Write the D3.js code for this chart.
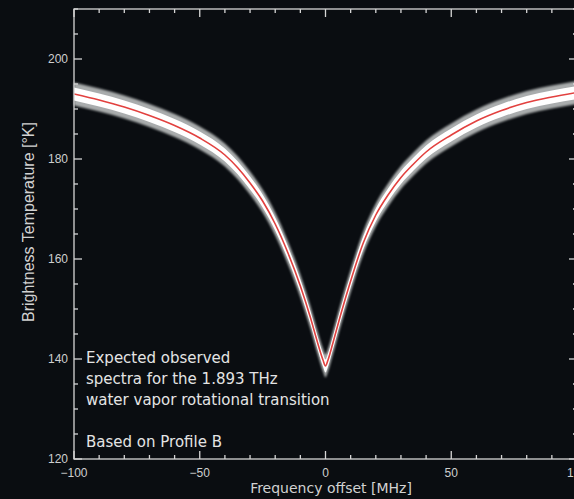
<!DOCTYPE html>
<html>
<head>
<meta charset="utf-8">
<script src="https://cdn.jsdelivr.net/npm/d3@7"></script>
<style>
	body { margin: 0; background: #0a0d11; }
	svg { display: block; }
</style>
</head>
<body>
<div id="spectrum"></div>
<script>
document.addEventListener("DOMContentLoaded", init, false);

// frequency offset [MHz] and brightness temperature [K]
var freqOffsets = [-100, -90, -80, -70, -60, -50, -40, -35, -30, -25, -20, -15, -10, -6, -3, -1, 0,
	1, 3, 6, 10, 15, 20, 25, 30, 35, 40, 50, 60, 70, 80, 90, 100];
var brightnessTemps = [193.0, 191.8, 190.4, 188.7, 186.7, 184.2, 180.8, 178.3, 175.2, 171.6, 167.0, 161.3, 154.6, 148.3, 143.0, 139.8, 138.6,
	139.8, 143.3, 148.8, 155.6, 163.2, 168.8, 172.9, 176.3, 179.0, 181.4, 184.8, 187.6, 189.7, 191.3, 192.4, 193.3];

// half width of the noisy observed spectrum around the fit [K]
var noiseCore = 1.3;
var noiseSpread = 2.3;

var xTickLabels = [-100, -50, 0, 50, 100];
var yTickLabels = [120, 140, 160, 180, 200];

var noteLines = ["Expected observed", "spectra for the 1.893 THz", "water vapor rotational transition"];
var profileNote = "Based on Profile B";

window.spectrum = {};
window.spectrum.screenWidth = 574;
window.spectrum.screenHeight = 499;

function init() {
	var width = window.spectrum.screenWidth,
		height = window.spectrum.screenHeight;
	var left = 74, right = 577, top = 9, bottom = 459;
	var axisColor = '#d6d6d6';

	var svg = d3.select('#spectrum').append('svg')
		.attr('width', width)
		.attr('height', height);

	svg.append('rect').attr('width', width).attr('height', height).attr('fill', '#0a0d11');

	var defs = svg.append('defs');
	defs.append('filter').attr('id', 'soft')
		.append('feGaussianBlur').attr('stdDeviation', 0.5);
	defs.append('filter').attr('id', 'softer')
		.append('feGaussianBlur').attr('stdDeviation', 1.0);

	var x = d3.scaleLinear().domain([-100, 100]).range([left, right]);
	var y = d3.scaleLinear().domain([120, 210]).range([bottom, top]);

	var points = freqOffsets.map(function(f, i) {
		return {'f': f, 't': brightnessTemps[i]};
	});

	/**
	 * noisy observed spectrum, drawn as a band round the fit
	 **/
	var halo = d3.area()
		.x(function(d) { return x(d.f); })
		.y0(function(d) { return y(d.t - noiseSpread); })
		.y1(function(d) { return y(d.t + noiseSpread); })
		.curve(d3.curveMonotoneX);
	var core = d3.area()
		.x(function(d) { return x(d.f); })
		.y0(function(d) { return y(d.t - noiseCore); })
		.y1(function(d) { return y(d.t + noiseCore); })
		.curve(d3.curveMonotoneX);

	svg.append('path').datum(points).attr('d', halo)
		.attr('fill', '#dfe2e1').attr('opacity', 0.75).attr('filter', 'url(#softer)');
	svg.append('path').datum(points).attr('d', core)
		.attr('fill', '#ffffff').attr('filter', 'url(#soft)');

	// fitted line
	var fit = d3.line()
		.x(function(d) { return x(d.f); })
		.y(function(d) { return y(d.t); })
		.curve(d3.curveMonotoneX);
	svg.append('path').datum(points).attr('d', fit)
		.attr('fill', 'none').attr('stroke', '#e2413f').attr('stroke-width', 1.6);

	/**
	 * frame and inward ticks
	 **/
	var frame = svg.append('g').attr('stroke', axisColor).attr('stroke-width', 1.3).attr('fill', 'none');
	frame.append('rect').attr('x', left).attr('y', top).attr('width', right - left).attr('height', bottom - top);

	var xTicks = d3.range(-100, 101, 10);
	var yTicks = d3.range(120, 211, 5);

	xTicks.forEach(function(v) {
		var len = v % 50 === 0 ? 8 : 4;
		frame.append('line').attr('x1', x(v)).attr('x2', x(v)).attr('y1', bottom).attr('y2', bottom - len);
		frame.append('line').attr('x1', x(v)).attr('x2', x(v)).attr('y1', top).attr('y2', top + len);
	});
	yTicks.forEach(function(v) {
		var len = v % 20 === 0 ? 8 : 4;
		frame.append('line').attr('x1', left).attr('x2', left + len).attr('y1', y(v)).attr('y2', y(v));
		frame.append('line').attr('x1', right).attr('x2', right - len).attr('y1', y(v)).attr('y2', y(v));
	});

	var labels = svg.append('g')
		.attr('fill', '#cfcfcf')
		.attr('font-family', 'Liberation Sans, Arial, sans-serif')
		.attr('font-size', 12);

	labels.selectAll('.xl').data(xTickLabels).enter().append('text')
		.attr('x', function(d) { return x(d); })
		.attr('y', 477)
		.attr('text-anchor', 'middle')
		.text(function(d) { return d < 0 ? '\u2212' + Math.abs(d) : d; });

	labels.selectAll('.yl').data(yTickLabels).enter().append('text')
		.attr('x', 68)
		.attr('y', function(d) { return y(d) + 4; })
		.attr('text-anchor', 'end')
		.text(function(d) { return d; });

	// axis titles
	var titleFont = 'DejaVu Sans, Verdana, sans-serif';
	svg.append('text')
		.attr('x', 331).attr('y', 493)
		.attr('text-anchor', 'middle')
		.attr('fill', '#d2d2d2').attr('font-family', titleFont).attr('font-size', 14)
		.text('Frequency offset [MHz]');

	svg.append('text')
		.attr('transform', 'translate(34,222) rotate(-90)')
		.attr('text-anchor', 'middle')
		.attr('fill', '#d2d2d2').attr('font-family', 'Liberation Sans, Arial, sans-serif').attr('font-size', 16)
		.text('Brightness Temperature [\u00b0K]');

	// annotation
	var note = svg.append('g')
		.attr('fill', '#e4e4e4').attr('font-family', titleFont).attr('font-size', 15);
	note.selectAll('text').data(noteLines).enter().append('text')
		.attr('x', 86)
		.attr('y', function(d, i) { return 363 + i * 21; })
		.text(function(d) { return d; });
	note.append('text').attr('x', 86).attr('y', 447).text(profileNote);
}
</script>
</body>
</html>
